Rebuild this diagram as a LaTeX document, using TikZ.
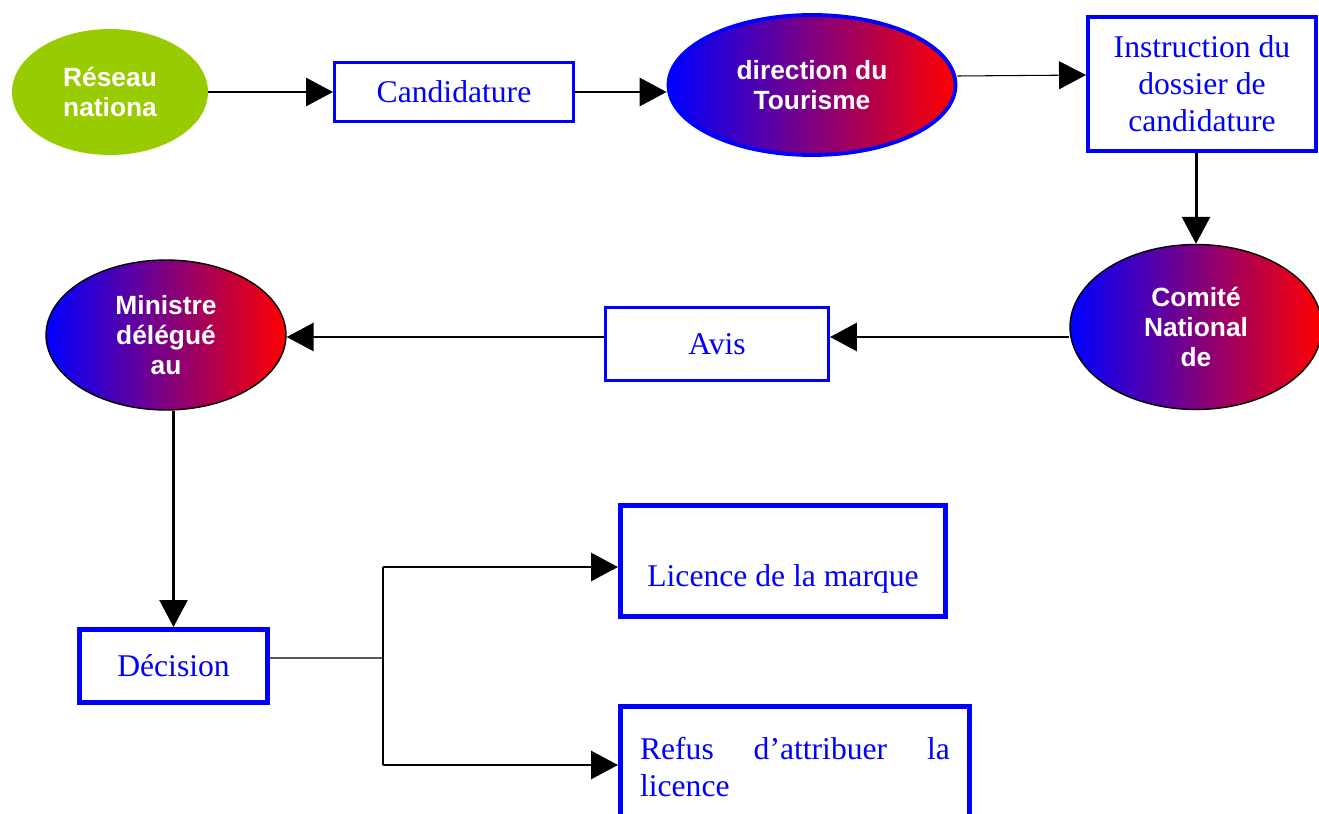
\documentclass[tikz,border=0pt]{standalone}
\usepackage{fontspec}
\setmainfont{Liberation Serif}
\setsansfont{Liberation Sans}
\usetikzlibrary{arrows.meta,shapes.geometric,calc}
\definecolor{leaf}{HTML}{99CC00}
\tikzset{
  box/.style={draw=blue, line width=1.7pt, text=blue, inner sep=0pt, align=center, font=\fontsize{18}{21}\selectfont},
  heavybox/.style={box, line width=2.85pt},
  blob/.style={ellipse, inner sep=0pt, align=center, text=white, font=\sffamily\bfseries\fontsize{15}{17}\selectfont},
  grad/.style={blob, left color=blue, right color=red, draw=black, line width=0.8pt},
  arr/.style={-{Triangle[length=0.54cm,width=0.56cm]}, line width=1.7pt},
  thinarr/.style={arr, line width=0.6pt},
}
\begin{document}
\begin{tikzpicture}[x=0.02cm,y=-0.02cm]
  \useasboundingbox (0,0) rectangle (1319,814);
  % top row
  \node[blob, fill=leaf, minimum width=3.92cm, minimum height=2.52cm] (reseau) at (110,92) {Réseau\\nationa};
  \node[box, minimum width=4.78cm, minimum height=1.18cm] (cand) at (454,92) {Candidature};
  \node[grad, draw=blue, line width=2.2pt, minimum width=5.74cm, minimum height=2.8cm] (dir) at (812,85) {direction du\\Tourisme};
  \node[box, line width=2pt, minimum width=4.57cm, minimum height=2.69cm] (instr) at (1202,84) {Instruction du\\dossier de\\candidature};
  % middle row
  \node[grad, minimum width=5.04cm, minimum height=3.3cm] (comite) at (1196,327) {Comité\\National\\de};
  \node[box, minimum width=4.46cm, minimum height=1.46cm] (avis) at (717,344) {Avis};
  \node[grad, minimum width=4.8cm, minimum height=3cm] (ministre) at (166,335) {Ministre\\délégué\\au};
  % bottom
  \node[heavybox, minimum width=3.76cm, minimum height=1.46cm] (decision) at (173.5,666) {Décision};
  \node[heavybox, minimum width=6.5cm, minimum height=2.24cm, text height=1.3cm, text depth=0.26cm] (licence) at (783,561) {Licence de la marque};
  \node[heavybox, minimum width=6.98cm, minimum height=2.44cm, text width=6.2cm, align=justify,
        font=\fontsize{18}{21}\selectfont] (refus) at (795,767) {Refus d’attribuer la \mbox{licence}};

  \draw[arr] (reseau.east |- cand.west) -- (cand.west);
  \draw[arr] (cand.east) -- (cand.east -| dir.west);
  \draw[thinarr] ([yshift=0.18cm]dir.east) -- ([yshift=0.18cm]instr.west);
  \draw[arr] (instr.south -| comite.north) -- (comite.north);
  \coordinate (row) at (0,337);
  \draw[arr] (comite.west |- row) -- (avis.east |- row);
  \draw[arr] (avis.west |- row) -- (ministre.east |- row);
  \draw[arr, line width=1.4pt] (ministre.south -| decision.north) -- (decision.north);
  \coordinate (fork) at (383,658);
  \coordinate (fup) at (383,567);
  \coordinate (fdown) at (383,765);
  \draw[line width=0.8pt] ([yshift=0.16cm]decision.east) -- (fork);
  \draw[line width=1.1pt] (fup) -- (fdown);
  \draw[arr] (fup) -- (licence.west |- fup);
  \draw[arr] (fdown) -- (refus.west |- fdown);
\end{tikzpicture}
\end{document}
